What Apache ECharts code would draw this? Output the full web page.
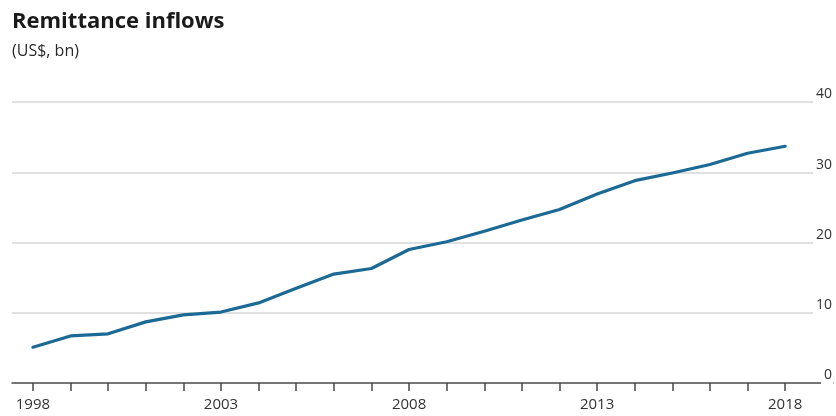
<!DOCTYPE html>
<html>
<head>
<meta charset="utf-8">
<script src="https://cdn.jsdelivr.net/npm/echarts@6/dist/echarts.min.js"></script>
<style>
  html, body { margin: 0; padding: 0; background: #fff; }
  #chart { width: 836px; height: 416px; }
</style>
</head>
<body>
<div id="chart"></div>
<script>
var years = [1998, 1999, 2000, 2001, 2002, 2003, 2004, 2005, 2006, 2007, 2008,
             2009, 2010, 2011, 2012, 2013, 2014, 2015, 2016, 2017, 2018];
var inflows = [5.1, 6.7, 7.0, 8.7, 9.7, 10.1, 11.4, 13.5, 15.5, 16.3, 19.0,
               20.1, 21.6, 23.2, 24.7, 26.9, 28.8, 29.9, 31.1, 32.7, 33.7];
var xLabelYears = [1998, 2003, 2008, 2013, 2018];
var yTicks = [0, 10, 20, 30, 40];
var titleText = 'Remittance inflows';
var subtitleText = '(US$, bn)';

var chart = echarts.init(document.getElementById('chart'), null, { renderer: 'canvas' });
var font = '"Open Sans", Lato, sans-serif';

chart.setOption({
  animation: false,
  backgroundColor: '#ffffff',
  title: [
    { text: titleText, left: 12, top: 11, padding: 0,
      textStyle: { fontFamily: font, fontWeight: 'bold', fontSize: 22, color: '#1a1a1a' } },
    { text: subtitleText, left: 12, top: 43, padding: 0,
      textStyle: { fontFamily: font, fontWeight: 'normal', fontSize: 16, color: '#2a2a2a' } }
  ],
  grid: { left: 12, right: 2, top: 102, bottom: 33, containLabel: false },
  xAxis: {
    type: 'value',
    min: 1997.444,
    max: 2019.271,
    z: 0,
    splitLine: { show: false },
    axisLine: { show: true, lineStyle: { color: '#4a4a4a', width: 1.5 } },
    axisTick: { show: true, customValues: years, length: 8, inside: false,
                lineStyle: { color: '#4a4a4a', width: 1.5 } },
    axisLabel: { show: true, customValues: xLabelYears, margin: 14,
                 fontFamily: font, fontSize: 15, color: '#333',
                 formatter: function (v) { return String(v); } }
  },
  yAxis: {
    type: 'value',
    position: 'right',
    min: 0, max: 40, interval: 10,
    z: 1,
    axisLine: { show: false },
    axisTick: { show: false },
    splitLine: { show: true, showMinLine: false, lineStyle: { color: '#d6d6d6', width: 1.5 } },
    axisLabel: {
      show: true, inside: true, margin: 0, align: 'right', verticalAlign: 'middle',
      fontFamily: font, fontSize: 14, color: '#333', lineHeight: 15,
      backgroundColor: '#ffffff', padding: [0, 1, 0, 3],
      customValues: yTicks,
      formatter: function (v) { return v + '\n '; }
    }
  },
  series: [{
    type: 'line',
    data: years.map(function (y, i) { return [y, inflows[i]]; }),
    showSymbol: false,
    symbol: 'none',
    smooth: false,
    lineStyle: { color: '#1b6a96', width: 3.2, join: 'round', cap: 'round' },
    z: 3
  }]
});
</script>
</body>
</html>
